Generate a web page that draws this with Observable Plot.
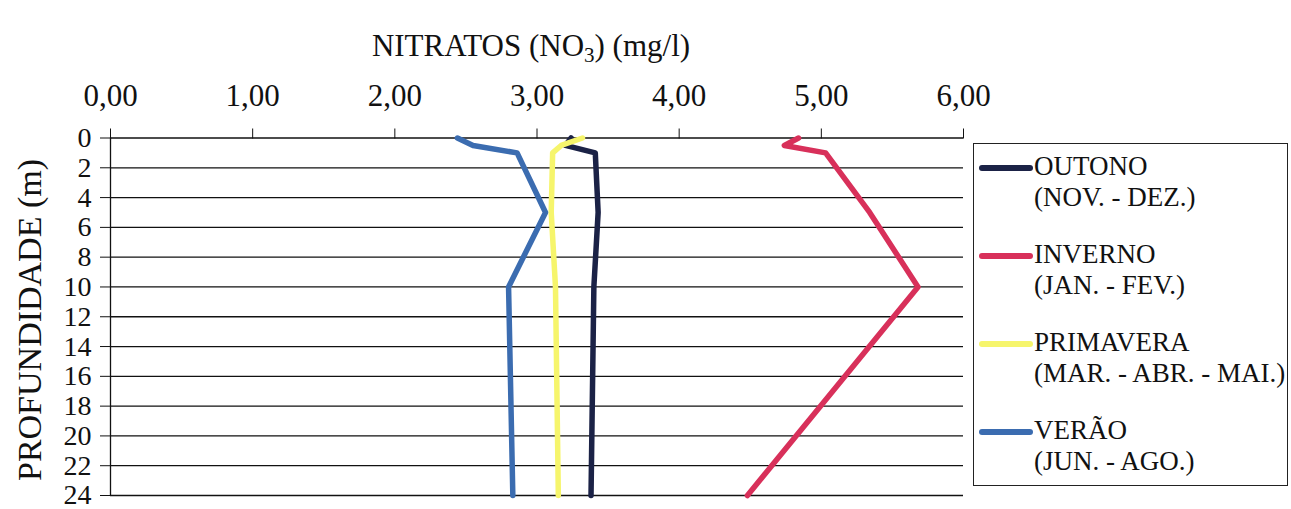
<!DOCTYPE html>
<html>
<head>
<meta charset="utf-8">
<script src="https://cdn.jsdelivr.net/npm/d3@7"></script>
<script src="https://cdn.jsdelivr.net/npm/@observablehq/plot@0.6"></script>
<style>
  html, body { margin: 0; padding: 0; background: #fff; }
  #wrap { position: relative; width: 1291px; height: 509px; font-family: "Liberation Serif", "Times New Roman", serif; color: #111; }
  #chart { position: absolute; left: 0; top: 0; }
  #chart svg, #chart svg text { font-family: "Liberation Serif", "Times New Roman", serif !important; }
  .title { position: absolute; left: 531px; top: 45px; transform: translate(-50%, -50%); font-size: 31px; line-height: 1; white-space: nowrap; }
  .title sub { font-size: 21px; vertical-align: -6px; line-height: 0; }
  .ylab { position: absolute; left: 30px; top: 320px; transform: translate(-50%, -50%) rotate(-90deg); font-size: 34px; line-height: 1; white-space: nowrap; }
  .legend { position: absolute; left: 973px; top: 143px; width: 315px; height: 343px; border: 1.5px solid #222; box-sizing: border-box; }
  .entry { position: absolute; left: 0; width: 315px; }
  .seg { position: absolute; left: 5px; width: 54px; height: 6px; border-radius: 3px; }
  .txt { position: absolute; left: 60px; font-size: 27px; line-height: 31px; white-space: nowrap; }
</style>
</head>
<body>
<div id="wrap">
  <div id="chart"></div>
  <div class="title">NITRATOS (NO<sub>3</sub>) (mg/l)</div>
  <div class="ylab">PROFUNDIDADE (m)</div>
  <div class="legend" id="legend"></div>
</div>
<script>
// Series names and legend sub-labels
const seriesNames = ["OUTONO", "INVERNO", "PRIMAVERA", "VERÃO"];
const seriesPeriods = ["(NOV. - DEZ.)", "(JAN. - FEV.)", "(MAR. - ABR. - MAI.)", "(JUN. - AGO.)"];
const seriesColors = ["#1b2246", "#d8305a", "#f6f56c", "#3b6cb0"];

// Depths (m) at which values are plotted
const depths = [0, 0.5, 1, 5, 10, 24];

// Nitrate values (mg/l) per season
const outono    = [3.24, 3.20, 3.41, 3.43, 3.40, 3.38];
const inverno   = [4.84, 4.74, 5.03, 5.34, 5.68, 4.48];
const primavera = [3.32, 3.17, 3.11, 3.10, 3.13, 3.15];
const verao     = [2.44, 2.55, 2.86, 3.06, 2.80, 2.83];

// Tick values
const xTicks = [0, 1, 2, 3, 4, 5, 6];
const yTicks = [0, 2, 4, 6, 8, 10, 12, 14, 16, 18, 20, 22, 24];

const seriesValues = [outono, inverno, primavera, verao];
const rows = [];
seriesNames.forEach((name, i) => {
  depths.forEach((d, j) => rows.push({series: name, depth: d, value: seriesValues[i][j]}));
});

const fmt = d => d.toFixed(2).replace(".", ",");

const chart = Plot.plot({
  width: 1291,
  height: 509,
  marginLeft: 110,
  marginRight: 328,
  marginTop: 137.5,
  marginBottom: 14,
  style: {fontFamily: "'Liberation Serif', 'Times New Roman', serif", color: "#111", background: "transparent"},
  x: {domain: [0, 6]},
  y: {domain: [0, 24], reverse: true},
  color: {domain: seriesNames, range: seriesColors},
  marks: [
    Plot.gridY(yTicks, {stroke: "#111", strokeOpacity: 1, strokeWidth: 1.3}),
    Plot.ruleX([0], {stroke: "#111", strokeWidth: 1.3}),
    Plot.axisX(xTicks, {anchor: "top", tickSize: 10, tickPadding: 22, tickFormat: fmt, fontSize: 31, label: null, stroke: "#111"}),
    Plot.axisY(yTicks, {anchor: "left", tickSize: 10, tickPadding: 9, fontSize: 28, label: null, stroke: "#111"}),
    Plot.line(rows, {x: "value", y: "depth", z: "series", stroke: "series", strokeWidth: 5.5, strokeLinejoin: "round", strokeLinecap: "round"})
  ]
});
document.getElementById("chart").appendChild(chart);

// Legend
const legend = document.getElementById("legend");
seriesNames.forEach((name, i) => {
  const e = document.createElement("div");
  e.className = "entry";
  e.style.top = (7 + i * 88) + "px";
  const seg = document.createElement("div");
  seg.className = "seg";
  seg.style.top = "14px";
  seg.style.background = seriesColors[i];
  const t = document.createElement("div");
  t.className = "txt";
  t.style.top = "0px";
  t.innerHTML = name + "<br>" + seriesPeriods[i];
  e.appendChild(seg);
  e.appendChild(t);
  legend.appendChild(e);
});
</script>
</body>
</html>
